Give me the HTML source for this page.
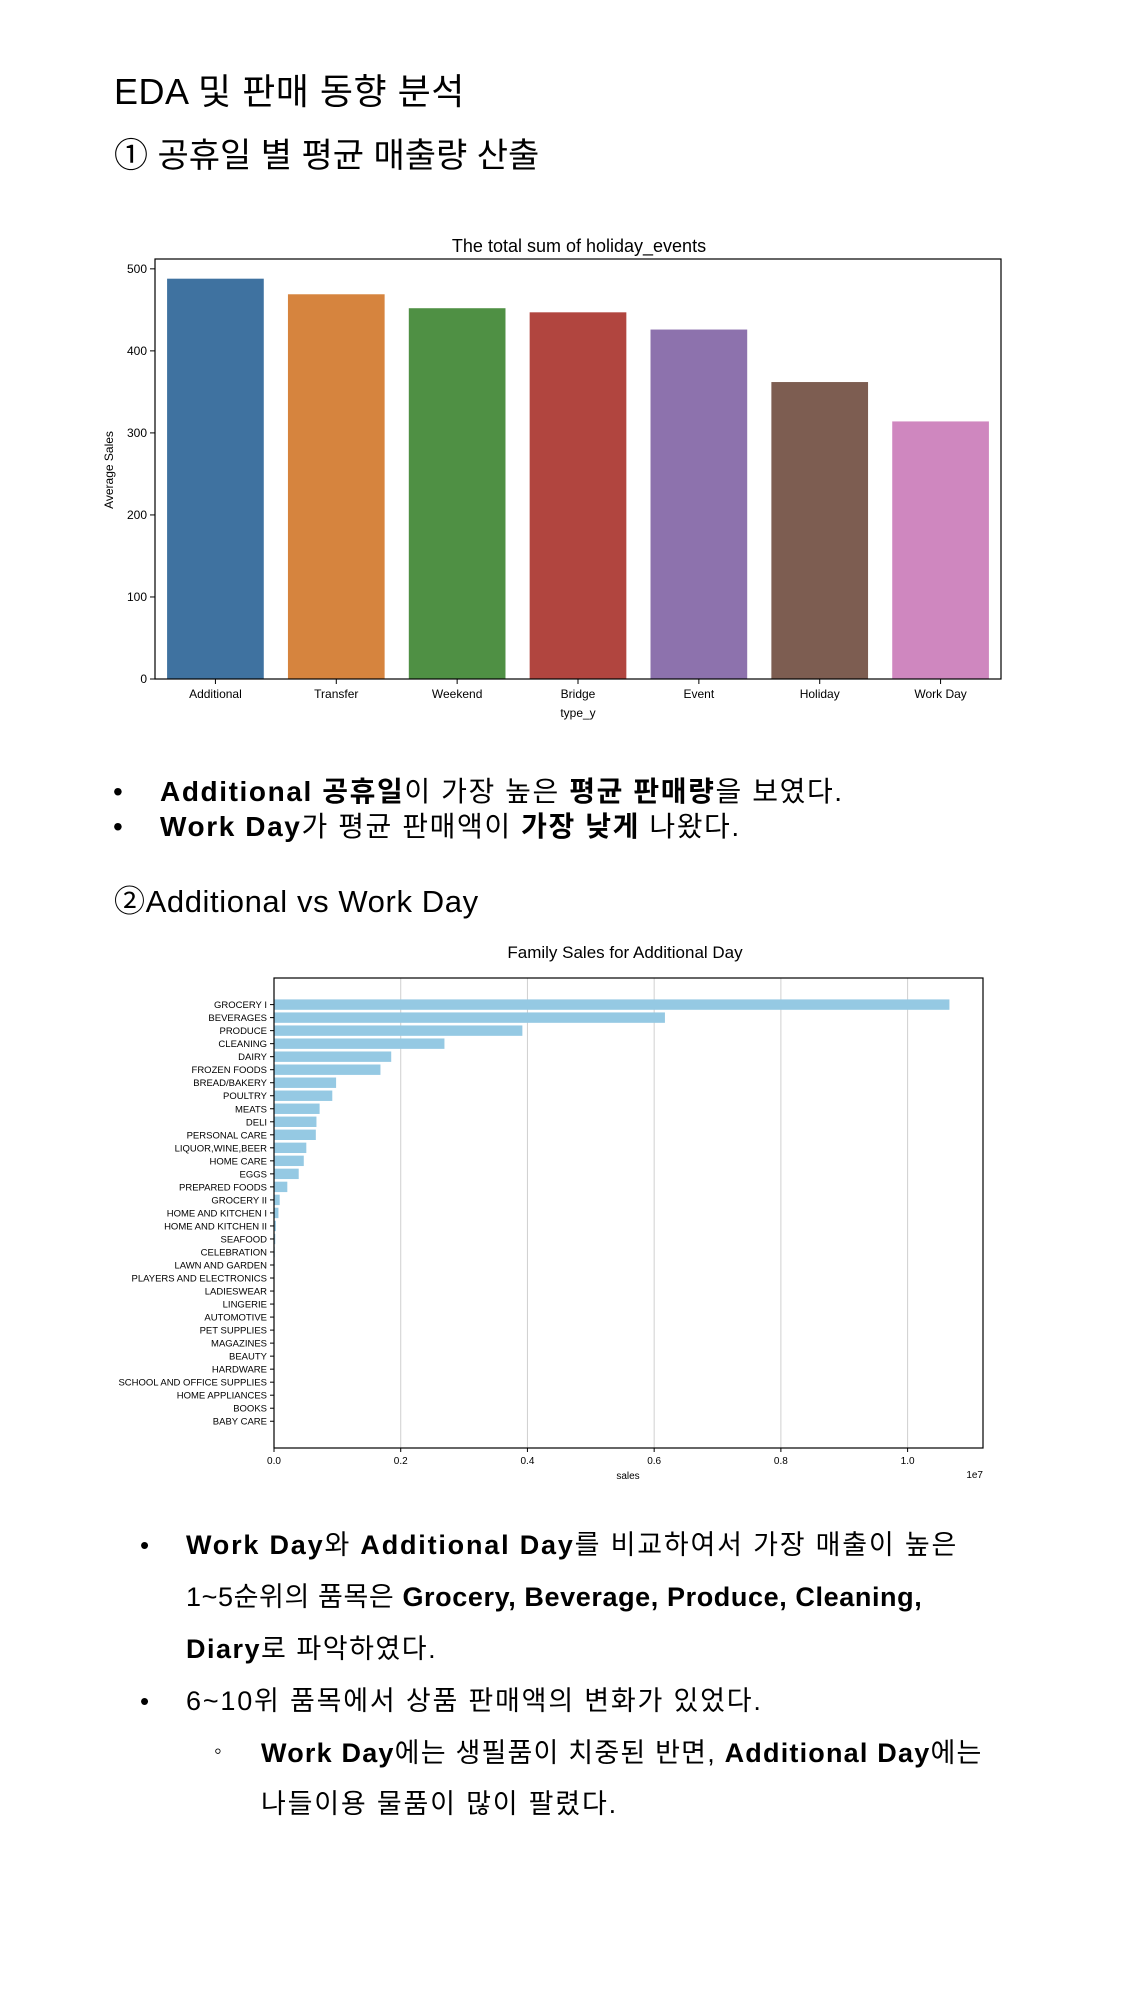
<!DOCTYPE html>
<html><head><meta charset="utf-8">
<style>
body{margin:0;width:1125px;height:2000px;background:#fff;position:relative;overflow:hidden;font-family:"Liberation Sans","Noto Sans CJK KR",sans-serif;color:#000}
.t{position:absolute;white-space:nowrap;line-height:1}
b{font-weight:bold}
svg text{font-family:"Liberation Sans","DejaVu Sans",sans-serif}
</style></head><body>
<div class="t" style="left:114px;top:74px;font-size:36px;letter-spacing:0.5px">EDA 및 판매 동향 분석</div>
<div class="t" style="left:114px;top:139px;font-size:34px">① 공휴일 별 평균 매출량 산출</div>

<svg id="c1" style="position:absolute;left:0;top:0" width="1125" height="760"></svg>

<div class="t" style="left:113px;top:778px;font-size:28px">•</div>
<div class="t" style="left:160px;top:778px;font-size:28px;letter-spacing:1.6px"><b>Additional 공휴일</b>이 가장 높은 <b>평균 판매량</b>을 보였다.</div>
<div class="t" style="left:113px;top:813px;font-size:28px">•</div>
<div class="t" style="left:160px;top:813px;font-size:28px;letter-spacing:1.6px"><b>Work Day</b>가 평균 판매액이 <b>가장 낮게</b> 나왔다.</div>
<div class="t" style="left:114px;top:886px;font-size:31px;letter-spacing:0.6px">②Additional vs Work Day</div>

<svg id="c2" style="position:absolute;left:0;top:930px" width="1125" height="560"></svg>

<div class="t" style="left:140px;top:1532px;font-size:26px">•</div>
<div class="t" style="left:186px;top:1532px;font-size:27px;letter-spacing:1.8px"><b>Work Day</b>와 <b>Additional Day</b>를 비교하여서 가장 매출이 높은</div>
<div class="t" style="left:186px;top:1584px;font-size:27px;letter-spacing:0.6px">1~5순위의 품목은 <b>Grocery, Beverage, Produce, Cleaning,</b></div>
<div class="t" style="left:186px;top:1636px;font-size:27px;letter-spacing:1.5px"><b>Diary</b>로 파악하였다.</div>
<div class="t" style="left:140px;top:1688px;font-size:26px">•</div>
<div class="t" style="left:186px;top:1688px;font-size:27px;letter-spacing:1.8px">6~10위 품목에서 상품 판매액의 변화가 있었다.</div>
<div class="t" style="left:214px;top:1740px;font-size:22px">◦</div>
<div class="t" style="left:261px;top:1740px;font-size:27px;letter-spacing:1.2px"><b>Work Day</b>에는 생필품이 치중된 반면, <b>Additional Day</b>에는</div>
<div class="t" style="left:261px;top:1791px;font-size:27px;letter-spacing:1.8px">나들이용 물품이 많이 팔렸다.</div>

<script>
const c1Cats=["Additional","Transfer","Weekend","Bridge","Event","Holiday","Work Day"];
const c1Vals=[488,469,452,447,426,362,314];
const c1Ticks=[0,100,200,300,400,500];
const c1Colors=["#3f72a0","#d6843e","#4f9044","#b1453f","#8d72ad","#7d5d51","#cf87bf"];

const c2Cats=["GROCERY I","BEVERAGES","PRODUCE","CLEANING","DAIRY","FROZEN FOODS","BREAD/BAKERY","POULTRY","MEATS","DELI","PERSONAL CARE","LIQUOR,WINE,BEER","HOME CARE","EGGS","PREPARED FOODS","GROCERY II","HOME AND KITCHEN I","HOME AND KITCHEN II","SEAFOOD","CELEBRATION","LAWN AND GARDEN","PLAYERS AND ELECTRONICS","LADIESWEAR","LINGERIE","AUTOMOTIVE","PET SUPPLIES","MAGAZINES","BEAUTY","HARDWARE","SCHOOL AND OFFICE SUPPLIES","HOME APPLIANCES","BOOKS","BABY CARE"];
const c2Vals=[10660000,6170000,3920000,2690000,1850000,1680000,980000,920000,720000,670000,660000,510000,470000,390000,210000,90000,70000,30000,20000,12000,10000,8000,7000,6000,5000,4000,3000,3000,2000,1500,1000,500,300];
const c2Ticks=[0,0.2,0.4,0.6,0.8,1.0];
const c2TickLabels=["0.0","0.2","0.4","0.6","0.8","1.0"];

const NS="http://www.w3.org/2000/svg";
function mk(svg,tag,attrs,txt){const e=document.createElementNS(NS,tag);for(const k in attrs)e.setAttribute(k,attrs[k]);if(txt!==undefined)e.textContent=txt;svg.appendChild(e);return e;}

// Chart 1
(function(){
const s=document.getElementById('c1');
const L=155,R=1001,T=259,B=679;
const y=v=>B-(v/512)*(B-T);
const bw=(R-L)/c1Cats.length;
const x=i=>L+bw*(i+0.5);
let t=mk(s,'text',{x:579,y:252,'text-anchor':'middle','font-size':18});t.textContent='The total sum of holiday_events';

c1Vals.forEach((v,i)=>{
const r=mk(s,'rect',{x:x(i)-bw*0.4,y:y(v),width:bw*0.8,height:B-y(v),fill:c1Colors[i]});


mk(s,'line',{x1:x(i),x2:x(i),y1:B,y2:B+5,stroke:'#000'});
const l=mk(s,'text',{x:x(i),y:B+19,'text-anchor':'middle','font-size':12},c1Cats[i]);


});
c1Ticks.forEach(v=>{
mk(s,'line',{x1:L-5,x2:L,y1:y(v),y2:y(v),stroke:'#000'});
const l=mk(s,'text',{x:L-8,y:y(v)+4,'text-anchor':'end','font-size':12},String(v));


});
mk(s,'rect',{x:L,y:T,width:R-L,height:B-T,fill:'none',stroke:'#000','stroke-width':1.2});
const xl=mk(s,'text',{x:578,y:717,'text-anchor':'middle','font-size':12},'type_y');

const yl=mk(s,'text',{x:0,y:0,'text-anchor':'middle','font-size':12,transform:'translate(113,470) rotate(-90)'},'Average Sales');

})();

// Chart 2
(function(){
const s=document.getElementById('c2');
const oy=930;
const L=274,R=983,T=978-oy,B=1448-oy;
const x=v=>L+(v/1e7)*(907.6-L);
const y=i=>1004.6-oy+i*13.02;
const bh=10.4;
let t=mk(s,'text',{x:625,y:28,'text-anchor':'middle','font-size':17},'Family Sales for Additional Day');

c2Ticks.forEach((v,i)=>{
const gx=x(v*1e7);
mk(s,'line',{x1:gx,x2:gx,y1:T,y2:B,stroke:'#d0d0d0','stroke-width':1});
mk(s,'line',{x1:gx,x2:gx,y1:B,y2:B+4,stroke:'#000'});
const l=mk(s,'text',{x:gx,y:B+16,'text-anchor':'middle','font-size':10},c2TickLabels[i]);


});
c2Vals.forEach((v,i)=>{
const r=mk(s,'rect',{x:L,y:y(i)-bh/2,width:Math.max(0,x(v)-L),height:bh,fill:'#95c9e3'});


mk(s,'line',{x1:L-4,x2:L,y1:y(i),y2:y(i),stroke:'#000'});
const l=mk(s,'text',{x:L-7,y:y(i)+3.5,'text-anchor':'end','font-size':9.5,'textLength':0},c2Cats[i]);
l.removeAttribute('textLength');


});
mk(s,'rect',{x:L,y:T,width:R-L,height:B-T,fill:'none',stroke:'#000','stroke-width':1.2});
const xl=mk(s,'text',{x:628,y:1479-oy,'text-anchor':'middle','font-size':10},'sales');

const ex=mk(s,'text',{x:983,y:1478-oy,'text-anchor':'end','font-size':10},'1e7');

})();
</script>
</body></html>
